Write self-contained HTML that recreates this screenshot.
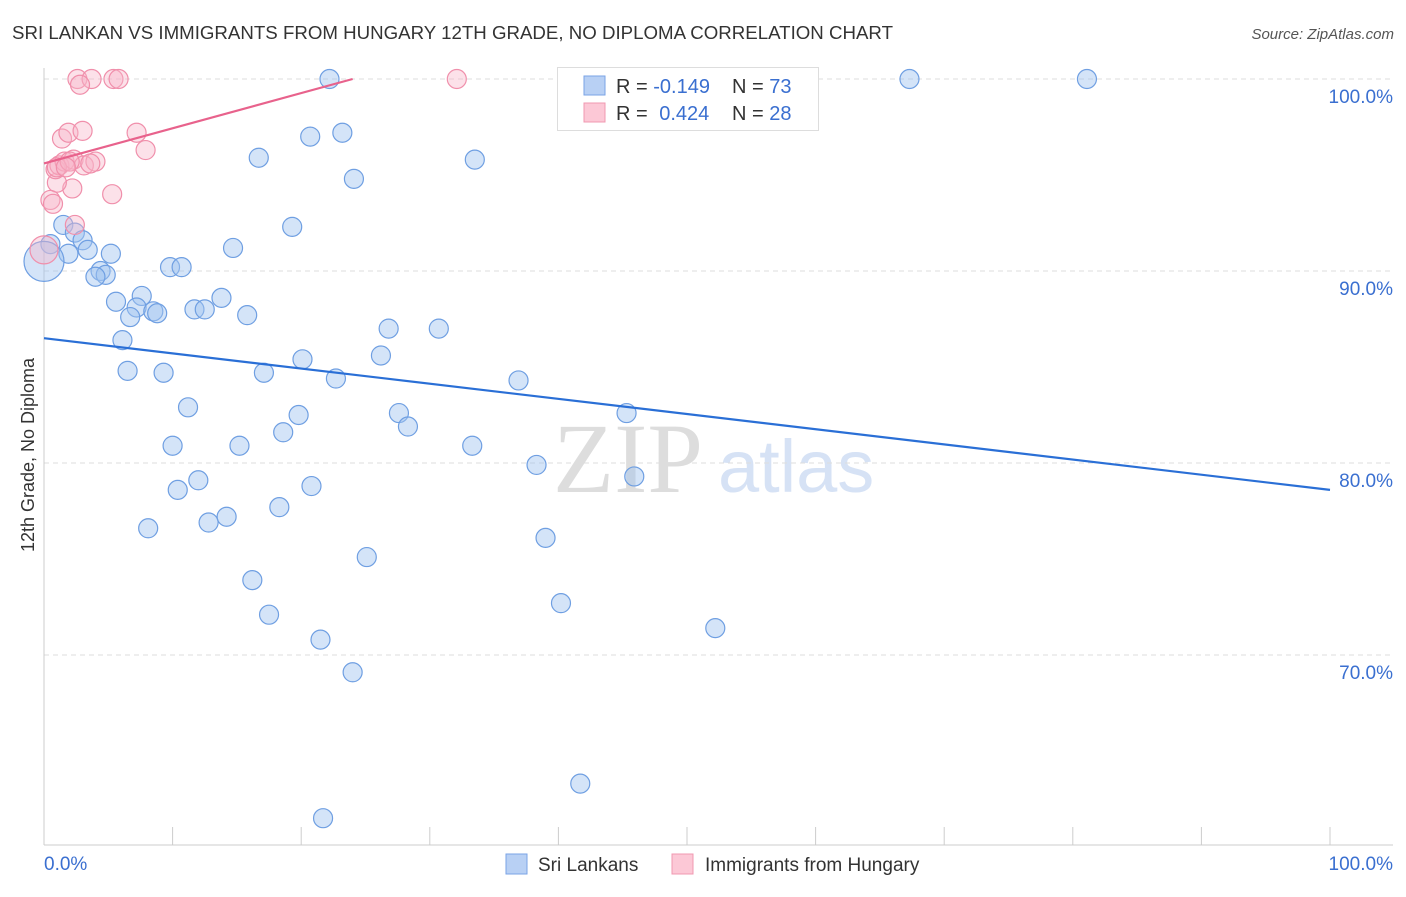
<!DOCTYPE html>
<html><head><meta charset="utf-8"><style>
body{margin:0;background:#fff;font-family:"Liberation Sans",sans-serif;}
</style></head><body>
<svg id="chart" width="1406" height="892" xmlns="http://www.w3.org/2000/svg" style="font-family:'Liberation Sans',sans-serif">
<text x="12" y="39" font-size="18.5" fill="#333" textLength="881" lengthAdjust="spacingAndGlyphs">SRI LANKAN VS IMMIGRANTS FROM HUNGARY 12TH GRADE, NO DIPLOMA CORRELATION CHART</text>
<text x="1394" y="39" font-size="15" fill="#555" text-anchor="end" font-style="italic">Source: ZipAtlas.com</text>
<g><text x="553" y="492" font-size="100" fill="#ddd" font-family="Liberation Serif">ZIP</text><text x="718" y="492" font-size="74" fill="#d6e2f5">atlas</text></g>
<g id="grid"></g><g id="axes"></g><g id="pts"></g><g id="lines"></g>
<text transform="translate(34,455) rotate(-90)" font-size="18" fill="#333" text-anchor="middle">12th Grade, No Diploma</text>
<g>
<rect x="557.5" y="67.5" width="261" height="63" fill="#fff" stroke="#ddd"/>
<rect x="584" y="76" width="21" height="19" fill="#b8d0f4" stroke="#7aa3e6"/>
<rect x="584" y="103" width="21" height="19" fill="#fcc8d6" stroke="#f098b0"/>
<text x="616" y="93" font-size="20" fill="#333">R = <tspan fill="#3a6fd0">-0.149</tspan></text>
<text x="732" y="93" font-size="20" fill="#333">N = <tspan fill="#3a6fd0">73</tspan></text>
<text x="616" y="120" font-size="20" fill="#333">R = <tspan fill="#3a6fd0" dx="6">0.424</tspan></text>
<text x="732" y="120" font-size="20" fill="#333">N = <tspan fill="#3a6fd0">28</tspan></text>
</g>
<g><rect x="506" y="854" width="21" height="20" fill="#b8d0f4" stroke="#7aa3e6"/><text x="538" y="871" font-size="19" fill="#333">Sri Lankans</text></g>
<g><rect x="672" y="854" width="21" height="20" fill="#fcc8d6" stroke="#f098b0"/><text x="705" y="871" font-size="19" fill="#333">Immigrants from Hungary</text></g>
</svg>
<script>
const yTicks=[100,90,80,70];
const blueX=[22.2,67.3,81.1,23.2,20.7,16.7,33.5,24.1,19.3,1.5,2.4,3.0,0.5,3.4,5.2,1.9,14.7,0,9.8,10.7,4.4,4.8,4.0,13.8,7.6,5.6,7.2,11.7,12.5,8.5,8.8,6.7,15.8,26.8,30.7,6.1,26.2,20.1,6.5,9.3,17.1,22.7,36.9,11.2,19.8,27.6,45.3,28.3,18.6,10.0,15.2,33.3,38.3,45.9,12.0,10.4,20.8,18.3,14.2,12.8,8.1,39.0,25.1,16.2,40.2,17.5,52.2,21.5,24.0,41.7,21.7];
const blueY=[100,100,100,97.2,97.0,95.9,95.8,94.8,92.3,92.4,92.0,91.6,91.4,91.1,90.9,90.9,91.2,90.5,90.2,90.2,90.0,89.8,89.7,88.6,88.7,88.4,88.1,88.0,88.0,87.9,87.8,87.6,87.7,87.0,87.0,86.4,85.6,85.4,84.8,84.7,84.7,84.4,84.3,82.9,82.5,82.6,82.6,81.9,81.6,80.9,80.9,80.9,79.9,79.3,79.1,78.6,78.8,77.7,77.2,76.9,76.6,76.1,75.1,73.9,72.7,72.1,71.4,70.8,69.1,63.3,61.5];
const pinkX=[2.6,3.7,5.4,5.8,32.1,2.8,1.4,1.9,3.0,7.2,7.9,5.3,2.2,1.0,0.9,1.2,1.6,2.3,3.1,4.0,1.0,0.5,0.7,2.4,0,2.0,3.6,1.7];
const pinkY=[100,100,100,100,100,99.7,96.9,97.2,97.3,97.2,96.3,94.0,94.3,94.6,95.3,95.5,95.7,95.8,95.5,95.7,95.4,93.7,93.5,92.4,91.1,95.7,95.6,95.4];
const blueTrend=[0,86.5,100,78.6];
const pinkTrend=[0,95.6,24,100];
const NS="http://www.w3.org/2000/svg";
const sx=v=>44+v*12.86, sy=v=>79+(100-v)*19.2;
function mk(p,t,a){const e=document.createElementNS(NS,t);for(const k in a)e.setAttribute(k,a[k]);document.getElementById(p).appendChild(e);return e;}
yTicks.forEach(t=>{
 const l=mk('grid','line',{x1:44,x2:1393,y1:sy(t),y2:sy(t),stroke:'#ddd','stroke-dasharray':'5,4'});
 
 
 const tx=mk('grid','text',{x:1393,y:sy(t)+24,'font-size':19,fill:'#3a6fd0','text-anchor':'end'});
 tx.textContent=t.toFixed(1)+'%';
 
 
});
const ax=mk('axes','line',{x1:44,x2:1393,y1:845,y2:845,stroke:'#ccc'});


const ay=mk('axes','line',{x1:44,x2:44,y1:68,y2:845,stroke:'#ccc'});


for(let i=0;i<=10;i++){const t=mk('axes','line',{x1:sx(i*10),x2:sx(i*10),y1:827,y2:845,stroke:'#ccc'});
 
 }
const x0=mk('axes','text',{x:44,y:870,'font-size':19,fill:'#3a6fd0'});x0.textContent='0.0%';


const x1=mk('axes','text',{x:1393,y:870,'font-size':19,fill:'#3a6fd0','text-anchor':'end'});x1.textContent='100.0%';


blueX.forEach((x,i)=>{const c=mk('pts','circle',{cx:sx(x),cy:sy(blueY[i]),r:x===0?20:9.5,fill:'rgba(160,195,240,0.45)',stroke:'#6f9fe2','stroke-width':1.2});
 
 });
pinkX.forEach((x,i)=>{const c=mk('pts','circle',{cx:sx(x),cy:sy(pinkY[i]),r:x===0?14:9.5,fill:'rgba(248,180,200,0.4)',stroke:'#f08fab','stroke-width':1.2});
 
 });
const bl=mk('lines','line',{x1:sx(blueTrend[0]),y1:sy(blueTrend[1]),x2:sx(blueTrend[2]),y2:sy(blueTrend[3]),stroke:'#2a6fd6','stroke-width':2.2});


const pl=mk('lines','line',{x1:sx(pinkTrend[0]),y1:sy(pinkTrend[1]),x2:sx(pinkTrend[2]),y2:sy(pinkTrend[3]),stroke:'#e8628c','stroke-width':2.2});


</script>
</body></html>
